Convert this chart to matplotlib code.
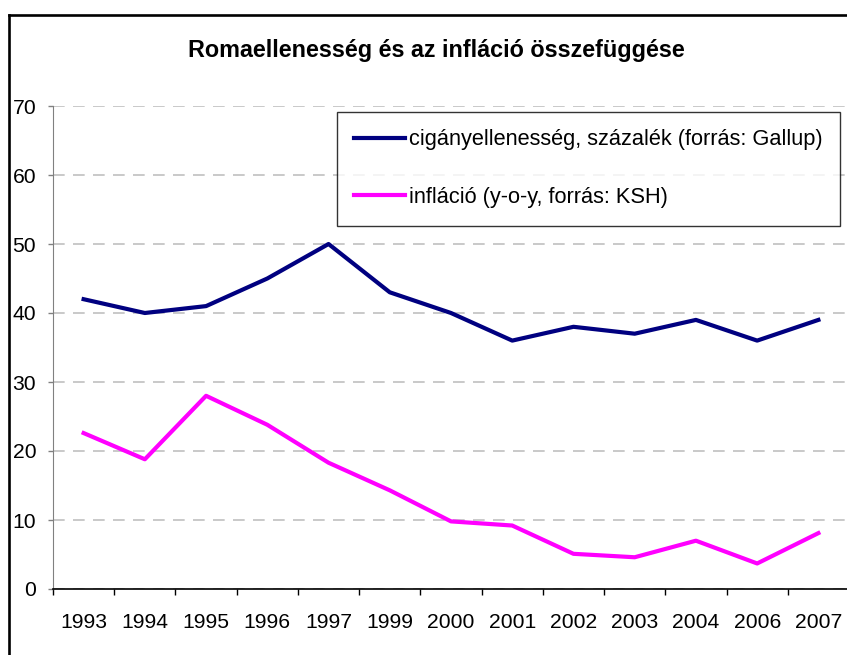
import matplotlib.pyplot as plt
from matplotlib.lines import Line2D
import numpy as np

plt.rcParams['font.family'] = ['Liberation Sans', 'DejaVu Sans']

evek = ['1993', '1994', '1995', '1996', '1997', '1999', '2000',
        '2001', '2002', '2003', '2004', '2006', '2007']
ciganyellenesseg = [42, 40, 41, 45, 50, 43, 40, 36, 38, 37, 39, 36, 39]
inflacio = [22.6, 18.8, 28.0, 23.8, 18.3, 14.3, 9.8, 9.2, 5.1, 4.6, 7.0, 3.7, 8.1]

W, H = 847, 655
fig = plt.figure(figsize=(W / 100, H / 100), dpi=100)
# plot area in pixels: left 53, right 849, top 106, bottom 589
ax = fig.add_axes([53 / W, 1 - 589 / H, (849 - 53) / W, (589 - 106) / H])

x = np.arange(len(evek))
ax.plot(x, ciganyellenesseg, color='#000080', lw=3.0,
        label='cigányellenesség, százalék (forrás: Gallup)', zorder=3)
ax.plot(x, inflacio, color='#FF00FF', lw=3.0,
        label='infláció (y-o-y, forrás: KSH)', zorder=3)

ax.set_xlim(-0.5, len(evek) - 0.5)
ax.set_ylim(0, 70)
ax.set_yticks(range(0, 71, 10))
ax.yaxis.grid(True, color='#c0c0c0', lw=1.2, linestyle=(0, (7, 5)))
ax.set_axisbelow(True)

ax.set_xticks(x)
ax.set_xticklabels(evek)
ax.set_xticks(np.arange(-0.5, len(evek), 1), minor=True)
ax.tick_params(axis='x', which='major', length=0, pad=17.5, labelsize=15.2)
ax.tick_params(axis='x', which='minor', length=4.5, width=1, color='black')
ax.tick_params(axis='y', length=3.6, width=1, color='#808080', pad=8.5, labelsize=15.2)

for s in ['top', 'right']:
    ax.spines[s].set_visible(False)
ax.spines['left'].set_color('#808080')
ax.spines['bottom'].set_color('black')
ax.spines['bottom'].set_linewidth(1.2)

leg = ax.legend(loc='upper left', bbox_to_anchor=((337 - 53) / (849 - 53), 1 - (112 - 106) / 483),
                fontsize=15.7, frameon=True, fancybox=False, edgecolor='black',
                handlelength=2.3, handletextpad=0.2, labelspacing=1.68,
                borderpad=0.8, borderaxespad=0)
leg.get_frame().set_linewidth(1.0)

fig.text(436 / W, 1 - 57 / H, 'Romaellenesség és az infláció összefüggése',
         ha='center', va='baseline', fontsize=16.8, fontweight='bold')

# outer chart frame
fig.add_artist(Line2D([9 / W, 9 / W], [0, 1 - 15 / H], color='black', lw=1.9))
fig.add_artist(Line2D([9 / W, 1], [1 - 15 / H, 1 - 15 / H], color='black', lw=1.9))

plt.savefig('out.png', dpi=100)
